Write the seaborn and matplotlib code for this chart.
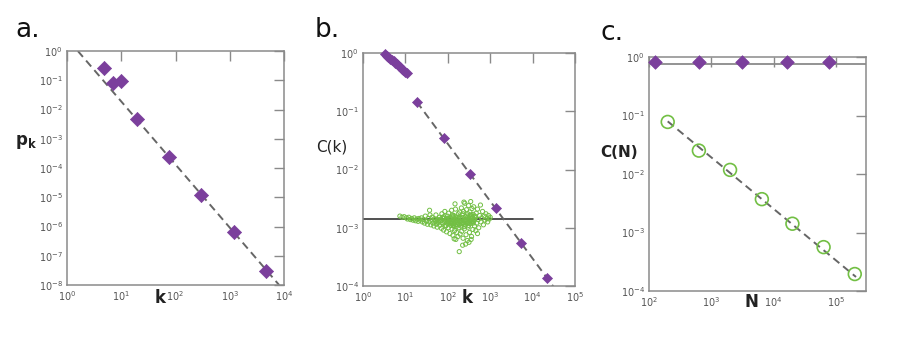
import numpy as np
import pandas as pd
import matplotlib
matplotlib.use("Agg")
import matplotlib.pyplot as plt
import seaborn as sns

sns.set_theme(style="white")
plt.rcParams['font.family'] = ['DejaVu Sans']
plt.rcParams['mathtext.default'] = 'regular'

PURPLE = "#7B3F9C"
GREEN = "#72BF44"
GRAY = "#8a8a8a"
DASH = "#666666"

# ---------------- data ----------------
# panel a: degree distribution (log10 values)
a_logk = [0.68, 0.85, 1.00, 1.29, 1.88, 2.47, 3.08, 3.67]
a_logp = [-0.58, -1.10, -1.02, -2.32, -3.62, -4.92, -6.19, -7.52]
a_fit_logk = [0.20, 3.91]
a_fit_logp = [0.0, -8.0]

# panel b: clustering vs degree (hierarchical model, purple)
b_logk = [0.52, 0.56, 0.60, 0.64, 0.68, 0.72, 0.76, 0.80, 0.845, 0.88, 0.92, 0.954, 1.00, 1.03,
          1.27, 1.91, 2.52, 3.14, 3.73, 4.34]
b_logC = [-0.02, -0.045, -0.07, -0.095, -0.12, -0.145, -0.17, -0.195, -0.22, -0.245, -0.27, -0.29, -0.32, -0.34,
          -0.84, -1.46, -2.08, -2.66, -3.27, -3.87]
b_fit_logk = [1.27, 4.52]
b_fit_logC = [-0.84, -4.04]
# random network clustering level (horizontal line)
b_rand_logk = [0.0, 4.0]
b_rand_logC = [-2.85, -2.85]
# scale-free model clustering (green cloud)
g_logk = [0.87, 0.92, 0.97, 1.02, 1.05, 1.08, 1.12, 1.15, 1.18, 1.21, 1.24, 1.27, 1.30, 1.32, 1.35,
          1.38, 1.40, 1.43, 1.45, 1.47, 1.50, 1.52, 1.54, 1.56, 1.58, 1.60, 1.62, 1.63, 1.65, 1.67,
          1.68, 1.70, 1.72, 1.73, 1.75, 1.76, 1.78, 1.80, 1.81, 1.57,
          1.83, 1.85, 1.86, 1.88, 1.89, 1.90, 1.92, 1.93, 1.95, 1.96, 1.97, 1.99, 2.00, 2.01, 2.02,
          2.04, 2.05, 2.06, 2.07, 2.09, 2.10, 2.11, 2.12, 2.14, 2.15, 2.16, 2.17, 2.18, 2.20, 2.21,
          2.22, 2.23, 2.24, 2.25, 2.26, 2.27, 2.28, 2.29, 1.91, 2.03, 2.08, 2.13, 2.19, 2.26, 1.98,
          2.11, 2.17, 2.38, 2.15, 2.19, 2.27,
          2.30, 2.31, 2.32, 2.33, 2.34, 2.35, 2.36, 2.37, 2.38, 2.39, 2.40, 2.41, 2.42, 2.43, 2.44,
          2.45, 2.46, 2.47, 2.48, 2.49, 2.50, 2.51, 2.52, 2.53, 2.54, 2.55, 2.56, 2.57, 2.58, 2.59,
          2.60, 2.61, 2.62, 2.63, 2.35, 2.42, 2.50, 2.55, 2.33, 2.44, 2.52, 2.58, 2.47,
          2.65, 2.67, 2.68, 2.70, 2.72, 2.73, 2.75, 2.77, 2.78, 2.80, 2.82, 2.84, 2.86, 2.88, 2.90,
          2.92, 2.94, 2.96, 2.98, 3.00, 2.70, 2.66,
          1.70, 1.74, 1.79, 1.84, 1.87, 1.94, 1.98, 2.02, 2.05, 2.09, 2.12, 2.16, 2.20, 2.23, 2.27,
          2.30, 2.34, 2.37, 2.41, 2.45, 2.48, 2.51, 2.54, 2.57, 2.61, 2.64, 1.96, 2.06, 2.14, 2.22,
          2.31, 2.39, 2.46, 2.53, 2.60, 1.88, 2.00, 2.10, 2.18, 2.25, 2.36, 2.43, 2.49, 2.56, 2.62]
g_logC = [-2.80, -2.82, -2.81, -2.83, -2.85, -2.82, -2.86, -2.84, -2.87, -2.83, -2.88, -2.85, -2.89, -2.84, -2.87,
          -2.83, -2.90, -2.86, -2.92, -2.80, -2.88, -2.94, -2.84, -2.90, -2.78, -2.95, -2.87, -2.82, -2.92, -2.97,
          -2.85, -2.89, -2.78, -2.94, -2.99, -2.86, -2.91, -2.82, -2.96, -2.70,
          -2.88, -3.01, -2.76, -2.93, -2.84, -3.04, -2.90, -2.72, -2.97, -2.86, -3.07, -2.80, -2.93, -3.00, -2.75,
          -2.89, -3.10, -2.83, -2.96, -2.70, -3.02, -2.87, -3.13, -2.79, -2.93, -3.05, -2.85, -2.68, -2.98, -3.08,
          -2.82, -2.91, -3.15, -2.76, -3.00, -2.88, -2.73, -3.11, -2.81, -2.84, -2.91, -2.97, -2.88, -2.94, -2.92,
          -2.78, -2.59, -2.56, -3.19, -3.20, -3.41,
          -2.84, -2.97, -2.66, -3.06, -2.78, -2.92, -3.18, -2.72, -2.88, -3.02, -2.58, -2.81, -2.95, -3.12, -2.69,
          -2.87, -3.22, -2.76, -2.99, -2.62, -2.84, -3.08, -2.73, -2.93, -2.55, -2.80, -3.15, -2.67, -2.90, -3.03,
          -2.77, -2.64, -2.86, -2.97, -3.30, -3.28, -3.25, -3.20, -2.90, -2.85, -2.88, -2.82, -2.92,
          -2.83, -2.75, -2.92, -2.68, -2.86, -3.00, -2.79, -2.61, -2.90, -2.83, -2.72, -2.95, -2.80, -2.87, -2.76,
          -2.84, -2.90, -2.79, -2.85, -2.82, -3.10, -3.05,
          -2.86, -2.90, -2.87, -2.85, -2.91, -2.88, -2.84, -2.90, -2.86, -2.93, -2.82, -2.89, -2.85, -2.95, -2.81,
          -2.88, -2.83, -2.94, -2.86, -2.80, -2.91, -2.87, -2.83, -2.89, -2.85, -2.80, -2.96, -2.92, -2.97, -2.90,
          -2.93, -2.98, -2.83, -2.78, -2.92, -2.82, -2.87, -2.80, -2.95, -2.84, -2.76, -2.89, -2.96, -2.78, -2.88]

# panel c: clustering vs network size
c_hier_logN = [2.10, 2.80, 3.49, 4.21, 4.88]
c_hier_logC = [-0.08, -0.08, -0.08, -0.08, -0.08]
c_level_logN = [2.0, 5.48]
c_level_logC = [-0.12, -0.12]
c_sf_logN = [2.30, 2.80, 3.30, 3.81, 4.30, 4.80, 5.30]
c_sf_logC = [-1.11, -1.60, -1.93, -2.43, -2.85, -3.25, -3.71]
c_fit_logN = [2.30, 5.32]
c_fit_logC = [-1.10, -3.76]

def tenpow(v):
    return [10.0 ** x for x in v]

W, H = 900, 338
fig = plt.figure(figsize=(9.0, 3.38), dpi=100)

def make_ax(l, r, t, b):
    return fig.add_axes([l / W, 1 - b / H, (r - l) / W, (b - t) / H])

def style(ax, xlim, ylim, xt, yt):
    ax.set_xscale("log")
    ax.set_yscale("log")
    ax.set_xlim(*xlim)
    ax.set_ylim(*ylim)
    ax.set_xticks(xt)
    ax.set_yticks(yt)
    ax.minorticks_off()
    ax.set_xticklabels([r"$10^{%d}$" % round(np.log10(v)) for v in xt])
    ax.set_yticklabels([r"$10^{%d}$" % round(np.log10(v)) for v in yt])
    ax.tick_params(which="major", direction="in", length=7, width=1.0, color=GRAY,
                   top=True, right=True, labelsize=7, labelcolor="#555555", pad=3)
    for s in ax.spines.values():
        s.set_color(GRAY)
        s.set_linewidth(1.1)
    ax.set_xlabel("")
    ax.set_ylabel("")
    ax.grid(False)

# ---- panel a ----
ax1 = make_ax(67, 284, 51, 285)
df_afit = pd.DataFrame({"k": tenpow(a_fit_logk), "p": tenpow(a_fit_logp)})
sns.lineplot(data=df_afit, x="k", y="p", ax=ax1, color=DASH, linestyle=(0, (4, 2.5)), linewidth=1.4)
df_a = pd.DataFrame({"k": tenpow(a_logk), "p": tenpow(a_logp)})
sns.scatterplot(data=df_a, x="k", y="p", ax=ax1, marker="D", s=52, color=PURPLE,
                edgecolor=PURPLE, linewidth=0.5, zorder=3)
style(ax1, (1, 1e4), (1e-8, 1), [1, 10, 100, 1e3, 1e4], [10.0 ** -i for i in range(8, -1, -1)])

# ---- panel b ----
ax2 = make_ax(363, 575, 53, 286)
df_rand = pd.DataFrame({"k": tenpow(b_rand_logk), "C": tenpow(b_rand_logC)})
sns.lineplot(data=df_rand, x="k", y="C", ax=ax2, color="#222222", linewidth=1.1)
df_g = pd.DataFrame({"k": tenpow(g_logk), "C": tenpow(g_logC)})
sns.scatterplot(data=df_g, x="k", y="C", ax=ax2, marker="o", s=9, facecolor="none",
                edgecolor=GREEN, linewidth=0.7, zorder=3)
df_bfit = pd.DataFrame({"k": tenpow(b_fit_logk), "C": tenpow(b_fit_logC)})
sns.lineplot(data=df_bfit, x="k", y="C", ax=ax2, color=DASH, linestyle=(0, (4, 2.5)), linewidth=1.4)
df_b = pd.DataFrame({"k": tenpow(b_logk), "C": tenpow(b_logC)})
sns.scatterplot(data=df_b, x="k", y="C", ax=ax2, marker="D", s=26, color=PURPLE,
                edgecolor=PURPLE, linewidth=0.5, zorder=4, clip_on=False)
style(ax2, (1, 1e5), (1e-4, 1), [1, 10, 100, 1e3, 1e4, 1e5], [1e-4, 1e-3, 1e-2, 1e-1, 1])

# ---- panel c ----
ax3 = make_ax(649, 866, 57, 291)
df_lvl = pd.DataFrame({"N": tenpow(c_level_logN), "C": tenpow(c_level_logC)})
sns.lineplot(data=df_lvl, x="N", y="C", ax=ax3, color=GRAY, linewidth=1.3)
df_cfit = pd.DataFrame({"N": tenpow(c_fit_logN), "C": tenpow(c_fit_logC)})
sns.lineplot(data=df_cfit, x="N", y="C", ax=ax3, color=DASH, linestyle=(0, (4, 2.5)), linewidth=1.4)
df_sf = pd.DataFrame({"N": tenpow(c_sf_logN), "C": tenpow(c_sf_logC)})
sns.scatterplot(data=df_sf, x="N", y="C", ax=ax3, marker="o", s=85, facecolor="none",
                edgecolor=GREEN, linewidth=1.2, zorder=3)
df_h = pd.DataFrame({"N": tenpow(c_hier_logN), "C": tenpow(c_hier_logC)})
sns.scatterplot(data=df_h, x="N", y="C", ax=ax3, marker="D", s=48, color=PURPLE,
                edgecolor=PURPLE, linewidth=0.5, zorder=4, clip_on=False)
style(ax3, (100, 10 ** 5.48), (1e-4, 1), [100, 1e3, 1e4, 1e5], [1e-4, 1e-3, 1e-2, 1e-1, 1])

# ---- text ----
def ftext(x, y, s, **kw):
    fig.text(x / W, 1 - y / H, s, **kw)

ftext(28, 30, "a.", fontsize=19, ha="center", va="center", color="#111111")
ftext(327, 30, "b.", fontsize=19, ha="center", va="center", color="#111111")
ftext(612, 33, "c.", fontsize=19, ha="center", va="center", color="#111111")

ftext(160, 298, "k", fontsize=12, fontweight="bold", ha="center", va="center", color="#222222")
ftext(467, 298, "k", fontsize=12, fontweight="bold", ha="center", va="center", color="#222222")
ftext(751, 302, "N", fontsize=12, fontweight="bold", ha="center", va="center", color="#222222")
ftext(26, 142, r"$\mathbf{p}_{\mathbf{k}}$", fontsize=12, ha="center", va="center", color="#222222")
ftext(332, 147, "C(k)", fontsize=11, ha="center", va="center", color="#222222")
ftext(619, 152, "C(N)", fontsize=11, fontweight="bold", ha="center", va="center", color="#222222")

fig.savefig("out.png", dpi=100, facecolor="white")
